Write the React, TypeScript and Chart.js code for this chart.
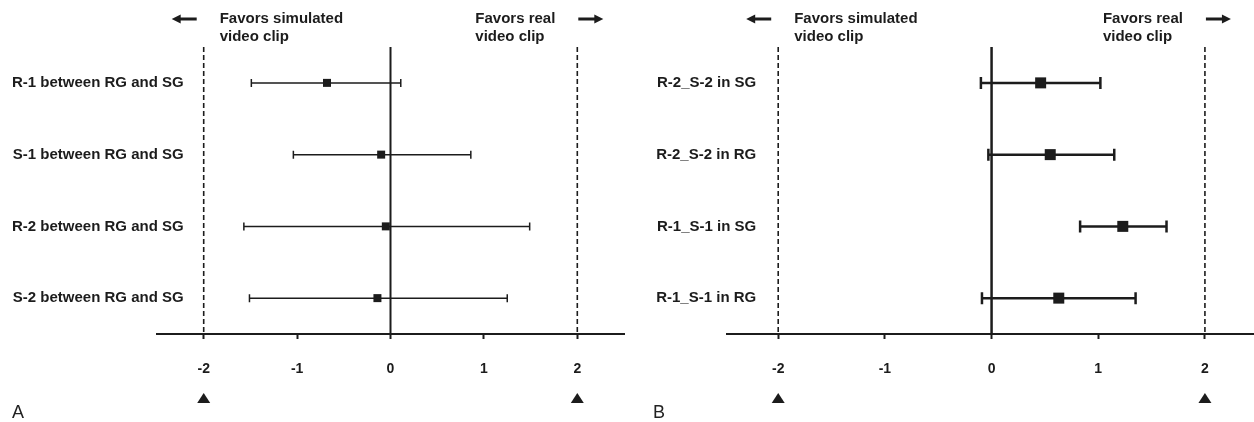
import React, { useEffect, useRef } from "react";
import { Chart, registerables } from "chart.js";

Chart.register(...registerables);

const INK = "#1c1c1c";
const FONT = "'Liberation Sans', Arial, Helvetica, sans-serif";

// Panel A
const labelsA = ["R-1 between RG and SG", "S-1 between RG and SG", "R-2 between RG and SG", "S-2 between RG and SG"];
const estA = [-0.68, -0.10, -0.05, -0.14];
const lowA = [-1.49, -1.04, -1.57, -1.51];
const highA = [0.11, 0.86, 1.49, 1.25];

// Panel B
const labelsB = ["R-2_S-2 in SG", "R-2_S-2 in RG", "R-1_S-1 in SG", "R-1_S-1 in RG"];
const estB = [0.46, 0.55, 1.23, 0.63];
const lowB = [-0.10, -0.03, 0.83, -0.09];
const highB = [1.02, 1.15, 1.64, 1.35];

const tickValues = [-2, -1, 0, 1, 2];
const tickLabels = ["-2", "-1", "0", "1", "2"];
const leftHeader = ["Favors simulated", "video clip"];
const rightHeader = ["Favors real", "video clip"];

type PanelCfg = {
  letter: string;
  letterX: number;
  labels: string[];
  est: number[];
  low: number[];
  high: number[];
  xmin: number;
  xmax: number;
  padLeft: number;
  padRight: number;
  pointSide: number;
  lineW: number;
  capH: number;
  zeroW: number;
  labelGap: number;
};

function makePlugin(cfg: PanelCfg) {
  return {
    id: "forest" + cfg.letter,
    beforeDatasetsDraw(chart: any) {
      const { ctx, chartArea } = chart;
      const x = chart.scales.x;
      const y = chart.scales.y;
      ctx.save();
      // zero line
      const x0 = x.getPixelForValue(0);
      ctx.strokeStyle = INK;
      ctx.lineWidth = cfg.zeroW;
      ctx.beginPath();
      ctx.moveTo(x0, chartArea.top);
      ctx.lineTo(x0, chartArea.bottom);
      ctx.stroke();
      // dashed reference lines
      ctx.setLineDash([5, 3]);
      ctx.lineWidth = 1.6;
      for (const v of [-2, 2]) {
        const px = x.getPixelForValue(v);
        ctx.beginPath();
        ctx.moveTo(px, chartArea.top);
        ctx.lineTo(px, chartArea.bottom);
        ctx.stroke();
      }
      ctx.setLineDash([]);
      // whiskers
      ctx.lineWidth = cfg.lineW;
      for (let i = 0; i < cfg.est.length; i++) {
        const py = y.getPixelForValue(i);
        const pl = x.getPixelForValue(cfg.low[i]);
        const ph = x.getPixelForValue(cfg.high[i]);
        ctx.beginPath();
        ctx.moveTo(pl, py);
        ctx.lineTo(ph, py);
        ctx.moveTo(pl, py - cfg.capH / 2);
        ctx.lineTo(pl, py + cfg.capH / 2);
        ctx.moveTo(ph, py - cfg.capH / 2);
        ctx.lineTo(ph, py + cfg.capH / 2);
        ctx.stroke();
      }
      ctx.restore();
    },
    afterDraw(chart: any) {
      const { ctx, chartArea } = chart;
      const x = chart.scales.x;
      const y = chart.scales.y;
      const xm2 = x.getPixelForValue(-2);
      const xp2 = x.getPixelForValue(2);
      ctx.save();
      ctx.fillStyle = INK;
      // row labels
      ctx.font = `bold 15px ${FONT}`;
      ctx.textAlign = "right";
      ctx.textBaseline = "middle";
      for (let i = 0; i < cfg.labels.length; i++) {
        ctx.fillText(cfg.labels[i], xm2 - cfg.labelGap, y.getPixelForValue(i));
      }
      // headers
      ctx.textAlign = "left";
      const t1 = chartArea.top - 28;
      const t2 = chartArea.top - 10;
      ctx.fillText(leftHeader[0], xm2 + 16, t1);
      ctx.fillText(leftHeader[1], xm2 + 16, t2);
      ctx.fillText(rightHeader[0], xp2 - 102, t1);
      ctx.fillText(rightHeader[1], xp2 - 102, t2);
      // arrows
      const ay = t1;
      ctx.beginPath();
      ctx.moveTo(xm2 - 32, ay);
      ctx.lineTo(xm2 - 23, ay - 4.5);
      ctx.lineTo(xm2 - 23, ay + 4.5);
      ctx.closePath();
      ctx.fill();
      ctx.fillRect(xm2 - 24, ay - 1.5, 17, 3);
      ctx.beginPath();
      ctx.moveTo(xp2 + 26, ay);
      ctx.lineTo(xp2 + 17, ay - 4.5);
      ctx.lineTo(xp2 + 17, ay + 4.5);
      ctx.closePath();
      ctx.fill();
      ctx.fillRect(xp2 + 1, ay - 1.5, 17, 3);
      // triangles under ±2
      for (const px of [xm2, xp2]) {
        ctx.beginPath();
        ctx.moveTo(px, 393);
        ctx.lineTo(px - 6.5, 403);
        ctx.lineTo(px + 6.5, 403);
        ctx.closePath();
        ctx.fill();
      }
      // panel letter
      ctx.font = `18px ${FONT}`;
      ctx.textAlign = "left";
      ctx.textBaseline = "alphabetic";
      ctx.fillStyle = "#222";
      ctx.fillText(cfg.letter, cfg.letterX, 418);
      ctx.restore();
    },
  };
}

function Panel({ cfg }: { cfg: PanelCfg }) {
  const ref = useRef<HTMLCanvasElement | null>(null);
  useEffect(() => {
    if (!ref.current) return;
    const chart = new Chart(ref.current, {
      type: "scatter",
      data: {
        datasets: [
          {
            data: cfg.est.map((v, i) => ({ x: v, y: i })),
            pointStyle: "rect",
            pointRadius: cfg.pointSide / Math.SQRT2,
            pointHoverRadius: cfg.pointSide / Math.SQRT2,
            backgroundColor: INK,
            borderColor: INK,
            borderWidth: 0,
          },
        ],
      },
      options: {
        animation: false,
        responsive: false,
        events: [],
        layout: {
          autoPadding: false,
          padding: { left: cfg.padLeft, right: cfg.padRight, top: 47, bottom: 0 },
        },
        plugins: { legend: { display: false }, tooltip: { enabled: false } },
        scales: {
          x: {
            type: "linear",
            min: cfg.xmin,
            max: cfg.xmax,
            afterBuildTicks: (s: any) => {
              s.ticks = tickValues.map((v) => ({ value: v }));
            },
            afterFit: (s: any) => {
              s.height = 88;
              s.paddingLeft = 0;
              s.paddingRight = 0;
            },
            grid: {
              display: true,
              drawOnChartArea: false,
              drawTicks: true,
              tickLength: 5,
              tickWidth: 2,
              tickColor: INK,
            },
            border: { display: true, width: 2, color: INK },
            ticks: {
              padding: 22,
              color: INK,
              font: { family: FONT, size: 14, weight: "bold" },
              callback: (v: any) => {
                const idx = tickValues.indexOf(Number(v));
                return idx >= 0 ? tickLabels[idx] : "";
              },
            },
          },
          y: {
            type: "linear",
            min: -0.5,
            max: 3.5,
            reverse: true,
            display: false,
          },
        },
      },
      plugins: [makePlugin(cfg)],
    } as any);
    return () => chart.destroy();
  }, [cfg]);
  return <canvas ref={ref} width={627} height={422} style={{ display: "block" }} />;
}

const cfgA: PanelCfg = {
  letter: "A",
  letterX: 12,
  labels: labelsA,
  est: estA,
  low: lowA,
  high: highA,
  xmin: -2.5,
  xmax: 2.5,
  padLeft: 157,
  padRight: 3,
  pointSide: 8,
  lineW: 1.5,
  capH: 8,
  zeroW: 2,
  labelGap: 20,
};

const cfgB: PanelCfg = {
  letter: "B",
  letterX: 26,
  labels: labelsB,
  est: estB,
  low: lowB,
  high: highB,
  xmin: -2.48,
  xmax: 2.46,
  padLeft: 100,
  padRight: 0,
  pointSide: 11,
  lineW: 2.5,
  capH: 12,
  zeroW: 2.5,
  labelGap: 22,
};

export default function App() {
  return (
    <div
      style={{
        position: "fixed",
        left: 0,
        top: 0,
        width: 1254,
        height: 422,
        display: "flex",
        background: "#fff",
      }}
    >
      <Panel cfg={cfgA} />
      <Panel cfg={cfgB} />
    </div>
  );
}
